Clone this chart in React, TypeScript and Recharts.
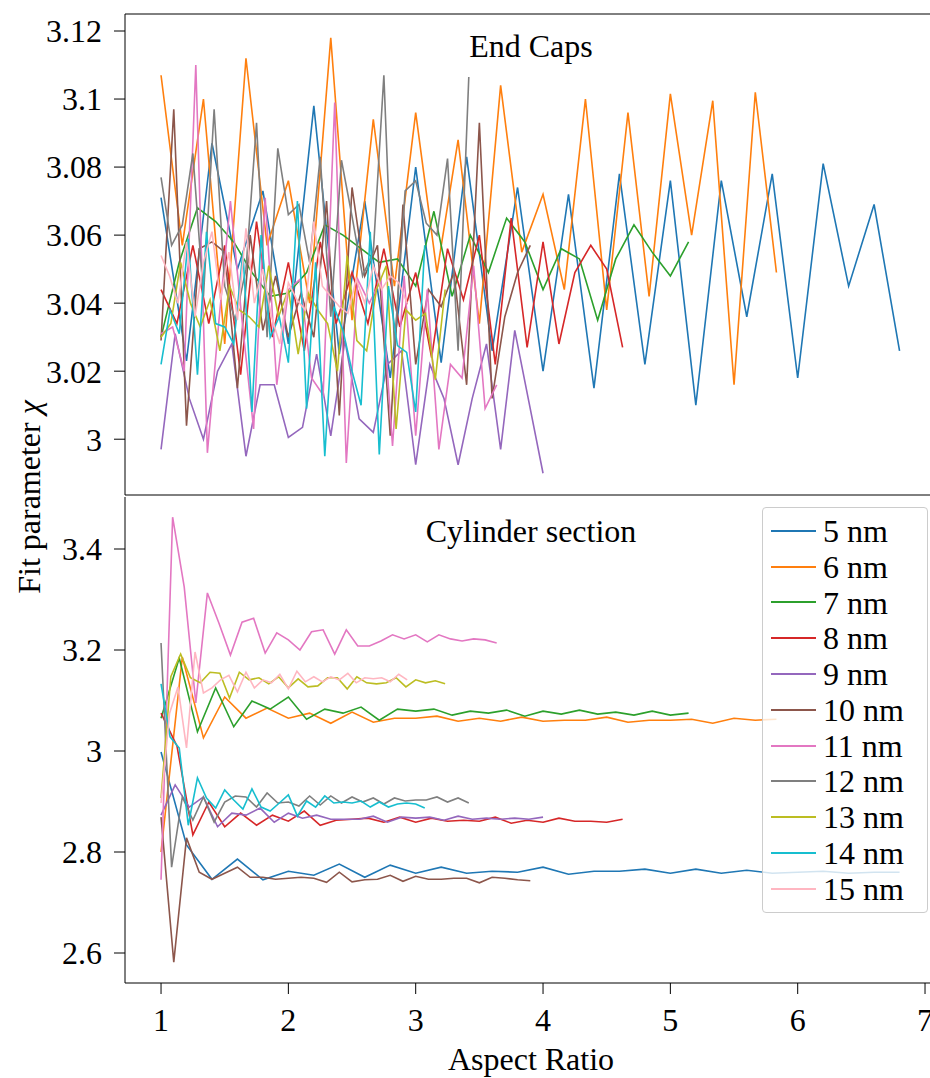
import { LineChart, Line, XAxis, YAxis, ReferenceLine, Legend } from 'recharts'

// aspect ratios (length / diameter) of each diameter series
const AR_5 = [1.0, 1.2, 1.4, 1.6, 1.8, 2.0, 2.2, 2.4, 2.6, 2.8, 3.0, 3.2, 3.4, 3.6, 3.8, 4.0, 4.2, 4.4, 4.6, 4.8, 5.0, 5.2, 5.4, 5.6, 5.8, 6.0, 6.2, 6.4, 6.6, 6.8]
const AR_6 = [1.0, 1.167, 1.333, 1.5, 1.667, 1.833, 2.0, 2.167, 2.333, 2.5, 2.667, 2.833, 3.0, 3.167, 3.333, 3.5, 3.667, 3.833, 4.0, 4.167, 4.333, 4.5, 4.667, 4.833, 5.0, 5.167, 5.333, 5.5, 5.667, 5.833]
const AR_7 = [1.0, 1.143, 1.286, 1.429, 1.571, 1.714, 1.857, 2.0, 2.143, 2.286, 2.429, 2.571, 2.714, 2.857, 3.0, 3.143, 3.286, 3.429, 3.571, 3.714, 3.857, 4.0, 4.143, 4.286, 4.429, 4.571, 4.714, 4.857, 5.0, 5.143]
const AR_8 = [1.0, 1.125, 1.25, 1.375, 1.5, 1.625, 1.75, 1.875, 2.0, 2.125, 2.25, 2.375, 2.5, 2.625, 2.75, 2.875, 3.0, 3.125, 3.25, 3.375, 3.5, 3.625, 3.75, 3.875, 4.0, 4.125, 4.25, 4.375, 4.5, 4.625]
const AR_9 = [1.0, 1.111, 1.222, 1.333, 1.444, 1.556, 1.667, 1.778, 1.889, 2.0, 2.111, 2.222, 2.333, 2.444, 2.556, 2.667, 2.778, 2.889, 3.0, 3.111, 3.222, 3.333, 3.444, 3.556, 3.667, 3.778, 3.889, 4.0]
const AR_10 = [1.0, 1.1, 1.2, 1.3, 1.4, 1.5, 1.6, 1.7, 1.8, 1.9, 2.0, 2.1, 2.2, 2.3, 2.4, 2.5, 2.6, 2.7, 2.8, 2.9, 3.0, 3.1, 3.2, 3.3, 3.4, 3.5, 3.6, 3.7, 3.8, 3.9]
const AR_11 = [1.0, 1.091, 1.182, 1.273, 1.364, 1.455, 1.545, 1.636, 1.727, 1.818, 1.909, 2.0, 2.091, 2.182, 2.273, 2.364, 2.455, 2.545, 2.636, 2.727, 2.818, 2.909, 3.0, 3.091, 3.182, 3.273, 3.364, 3.455, 3.545, 3.636]
const AR_12 = [1.0, 1.083, 1.167, 1.25, 1.333, 1.417, 1.5, 1.583, 1.667, 1.75, 1.833, 1.917, 2.0, 2.083, 2.167, 2.25, 2.333, 2.417, 2.5, 2.583, 2.667, 2.75, 2.833, 2.917, 3.0, 3.083, 3.167, 3.25, 3.333, 3.417]
const AR_13 = [1.0, 1.077, 1.154, 1.231, 1.308, 1.385, 1.462, 1.538, 1.615, 1.692, 1.769, 1.846, 1.923, 2.0, 2.077, 2.154, 2.231, 2.308, 2.385, 2.462, 2.538, 2.615, 2.692, 2.769, 2.846, 2.923, 3.0, 3.077, 3.154, 3.231]
const AR_14 = [1.0, 1.071, 1.143, 1.214, 1.286, 1.357, 1.429, 1.5, 1.571, 1.643, 1.714, 1.786, 1.857, 1.929, 2.0, 2.071, 2.143, 2.214, 2.286, 2.357, 2.429, 2.5, 2.571, 2.643, 2.714, 2.786, 2.857, 2.929, 3.0, 3.071]
const AR_15 = [1.0, 1.067, 1.133, 1.2, 1.267, 1.333, 1.4, 1.467, 1.533, 1.6, 1.667, 1.733, 1.8, 1.867, 1.933, 2.0, 2.067, 2.133, 2.2, 2.267, 2.333, 2.4, 2.467, 2.533, 2.6, 2.667, 2.733, 2.8, 2.867, 2.933]

// fit parameter, end caps
const CAPS_5 = [3.071, 3.023, 3.087, 3.05, 3.073, 3.028, 3.098, 3.025, 3.07, 3.018, 3.08, 3.0225, 3.083, 3.026, 3.074, 3.02, 3.072, 3.015, 3.078, 3.022, 3.076, 3.01, 3.076, 3.036, 3.078, 3.018, 3.081, 3.045, 3.069, 3.026]
const CAPS_6 = [3.107, 3.057, 3.1, 3.028, 3.112, 3.057, 3.076, 3.04, 3.118, 3.035, 3.094, 3.045, 3.096, 3.049, 3.088, 3.034, 3.104, 3.055, 3.072, 3.044, 3.1, 3.038, 3.096, 3.042, 3.1015, 3.06, 3.0995, 3.016, 3.102, 3.049]
const CAPS_7 = [3.03, 3.052, 3.068, 3.064, 3.058, 3.049, 3.042, 3.043, 3.049, 3.063, 3.06, 3.056, 3.052, 3.053, 3.045, 3.067, 3.042, 3.06, 3.049, 3.065, 3.058, 3.044, 3.056, 3.053, 3.035, 3.053, 3.063, 3.055, 3.048, 3.058]
const CAPS_8 = [3.044, 3.034, 3.057, 3.034, 3.057, 3.019, 3.064, 3.03, 3.052, 3.026, 3.058, 3.034, 3.049, 3.034, 3.056, 3.033, 3.049, 3.024, 3.056, 3.041, 3.06, 3.022, 3.065, 3.027, 3.058, 3.028, 3.049, 3.057, 3.05, 3.027]
const CAPS_9 = [2.997, 3.031, 3.012, 3.0, 3.02, 3.028, 2.995, 3.016, 3.016, 3.0005, 3.0035, 3.025, 3.001, 3.029, 3.006, 3.002, 3.022, 3.026, 2.9925, 3.022, 3.012, 2.9925, 3.012, 3.028, 2.997, 3.032, 3.011, 2.99]
const CAPS_10 = [3.029, 3.097, 3.004, 3.056, 3.058, 3.055, 3.015, 3.06, 3.032, 3.048, 3.03, 3.043, 3.03, 3.07, 3.007, 3.074, 3.048, 3.057, 3.001, 3.069, 3.022, 3.044, 3.039, 3.049, 3.016, 3.093, 3.012, 3.036, 3.049, 3.057]
const CAPS_11 = [3.031, 3.033, 3.02, 3.11, 2.996, 3.035, 3.07, 3.035, 3.003, 3.071, 3.016, 3.044, 3.047, 3.018, 3.013, 3.099, 2.993, 3.047, 3.04, 3.047, 2.998, 3.048, 3.001, 3.044, 2.997, 3.022, 3.018, 3.051, 3.009, 3.016]
const CAPS_12 = [3.077, 3.057, 3.063, 3.084, 3.042, 3.097, 3.045, 3.035, 3.05, 3.093, 3.03, 3.0855, 3.066, 3.069, 3.052, 3.083, 3.036, 3.082, 3.0655, 3.048, 3.055, 3.107, 3.027, 3.073, 3.076, 3.0635, 3.06, 3.0825, 3.026, 3.1065]
const CAPS_13 = [3.03, 3.034, 3.052, 3.04, 3.033, 3.041, 3.026, 3.045, 3.038, 3.036, 3.033, 3.051, 3.036, 3.044, 3.025, 3.043, 3.038, 3.034, 3.02, 3.054, 3.029, 3.026, 3.044, 3.051, 3.003, 3.038, 3.035, 3.037, 3.0175, 3.044]
const CAPS_14 = [3.022, 3.038, 3.031, 3.059, 3.019, 3.061, 3.034, 3.033, 3.028, 3.055, 3.008, 3.06, 3.03, 3.036, 3.0225, 3.07, 3.009, 3.052, 2.995, 3.039, 3.032, 3.02, 3.01, 3.061, 2.9955, 3.045, 3.0275, 3.0255, 3.008, 3.057]
const CAPS_15 = [3.054, 3.048, 3.04, 3.058, 3.036, 3.052, 3.061, 3.041, 3.055, 3.035, 3.062, 3.04, 3.05, 3.036, 3.028, 3.046, 3.041, 3.038, 3.064, 3.045, 3.042, 3.039, 3.037, 3.047, 3.04, 3.051, 3.044, 3.048, 3.046, 3.04]

// fit parameter, cylinder section
const CYL_5 = [2.998, 2.814, 2.746, 2.786, 2.745, 2.762, 2.754, 2.776, 2.75, 2.774, 2.758, 2.77, 2.758, 2.762, 2.76, 2.77, 2.756, 2.762, 2.762, 2.766, 2.758, 2.766, 2.758, 2.764, 2.758, 2.76, 2.762, 2.758, 2.76, 2.76]
const CYL_6 = [2.8, 3.186, 3.026, 3.107, 3.065, 3.085, 3.065, 3.075, 3.055, 3.077, 3.057, 3.065, 3.065, 3.069, 3.059, 3.065, 3.059, 3.067, 3.059, 3.061, 3.061, 3.067, 3.057, 3.061, 3.061, 3.063, 3.055, 3.065, 3.061, 3.063]
const CYL_7 = [3.065, 3.184, 3.038, 3.125, 3.048, 3.099, 3.083, 3.107, 3.063, 3.083, 3.075, 3.087, 3.061, 3.083, 3.079, 3.083, 3.071, 3.079, 3.075, 3.081, 3.069, 3.079, 3.073, 3.081, 3.073, 3.077, 3.071, 3.079, 3.071, 3.075]
const CYL_8 = [3.075, 3.01, 2.834, 2.899, 2.85, 2.877, 2.853, 2.873, 2.861, 2.881, 2.853, 2.863, 2.865, 2.867, 2.859, 2.869, 2.859, 2.867, 2.861, 2.863, 2.861, 2.869, 2.857, 2.863, 2.859, 2.867, 2.861, 2.861, 2.859, 2.865]
const CYL_9 = [2.873, 2.933, 2.889, 2.909, 2.85, 2.877, 2.873, 2.887, 2.859, 2.877, 2.867, 2.873, 2.865, 2.865, 2.865, 2.871, 2.859, 2.869, 2.867, 2.869, 2.863, 2.871, 2.865, 2.867, 2.865, 2.867, 2.865, 2.869]
const CYL_10 = [2.869, 2.582, 2.828, 2.76, 2.746, 2.758, 2.77, 2.75, 2.75, 2.746, 2.748, 2.75, 2.748, 2.74, 2.76, 2.741, 2.745, 2.746, 2.754, 2.742, 2.752, 2.746, 2.746, 2.748, 2.748, 2.739, 2.75, 2.748, 2.745, 2.743]
const CYL_11 = [2.745, 3.463, 3.325, 3.095, 3.313, 3.253, 3.19, 3.255, 3.263, 3.194, 3.234, 3.22, 3.2, 3.236, 3.24, 3.192, 3.24, 3.208, 3.208, 3.218, 3.23, 3.222, 3.23, 3.216, 3.23, 3.222, 3.218, 3.222, 3.22, 3.214]
const CYL_12 = [3.214, 2.77, 2.909, 2.863, 2.909, 2.859, 2.899, 2.911, 2.909, 2.889, 2.917, 2.897, 2.899, 2.891, 2.911, 2.893, 2.911, 2.897, 2.909, 2.899, 2.907, 2.895, 2.907, 2.901, 2.903, 2.903, 2.909, 2.899, 2.907, 2.897]
const CYL_13 = [2.907, 3.147, 3.192, 3.145, 3.135, 3.156, 3.154, 3.105, 3.156, 3.141, 3.145, 3.133, 3.147, 3.125, 3.143, 3.127, 3.129, 3.145, 3.145, 3.123, 3.147, 3.135, 3.133, 3.135, 3.145, 3.127, 3.141, 3.135, 3.139, 3.133]
const CYL_14 = [3.133, 3.028, 3.006, 2.853, 2.947, 2.907, 2.887, 2.923, 2.903, 2.885, 2.925, 2.889, 2.881, 2.897, 2.913, 2.871, 2.901, 2.889, 2.911, 2.897, 2.899, 2.897, 2.901, 2.889, 2.899, 2.889, 2.895, 2.897, 2.895, 2.887]
const CYL_15 = [2.897, 3.075, 3.127, 3.006, 3.196, 3.115, 3.125, 3.141, 3.15, 3.117, 3.156, 3.125, 3.141, 3.135, 3.152, 3.123, 3.158, 3.137, 3.147, 3.137, 3.147, 3.141, 3.154, 3.135, 3.145, 3.143, 3.145, 3.137, 3.152, 3.141]

const NAMES = ['5 nm', '6 nm', '7 nm', '8 nm', '9 nm', '10 nm', '11 nm', '12 nm', '13 nm', '14 nm', '15 nm']
const COLORS = ['#1f77b4', '#ff7f0e', '#2ca02c', '#d62728', '#9467bd', '#8c564b', '#e377c2', '#7f7f7f', '#bcbd22', '#17becf', '#ffb6c1']
const RATIOS = [AR_5, AR_6, AR_7, AR_8, AR_9, AR_10, AR_11, AR_12, AR_13, AR_14, AR_15]
const CAPS = [CAPS_5, CAPS_6, CAPS_7, CAPS_8, CAPS_9, CAPS_10, CAPS_11, CAPS_12, CAPS_13, CAPS_14, CAPS_15]
const CYL = [CYL_5, CYL_6, CYL_7, CYL_8, CYL_9, CYL_10, CYL_11, CYL_12, CYL_13, CYL_14, CYL_15]

const X_TICKS = [1, 2, 3, 4, 5, 6, 7]
const CAPS_TICKS = [3, 3.02, 3.04, 3.06, 3.08, 3.1, 3.12]
const CYL_TICKS = [2.6, 2.8, 3, 3.2, 3.4]

const X_DOMAIN = [0.717, 7.094]
const CAPS_DOMAIN = [2.9836, 3.125]
const CYL_DOMAIN = [2.5406, 3.503]

const FONT = "'Liberation Serif', 'Times New Roman', serif"
const FONT_SIZE = 32
const tickStyle = { fontSize: FONT_SIZE, fontFamily: FONT, fill: '#000' }

const toPoints = (xs: number[], ys: number[]) => xs.map((x, i) => ({ x, y: ys[i] }))

const capsSeries = NAMES.map((name, i) => ({ name, color: COLORS[i], points: toPoints(RATIOS[i], CAPS[i]) }))
const cylSeries = NAMES.map((name, i) => ({ name, color: COLORS[i], points: toPoints(RATIOS[i], CYL[i]) }))

const fmt = (v: number) => String(v)

function LegendBox({ payload }: any) {
    // keep the legend in series order, not sorted by label
    const items = [...(payload || [])].sort((a: any, b: any) => NAMES.indexOf(a.value) - NAMES.indexOf(b.value))
    return (
        <div
            style={{
                background: 'rgba(255,255,255,0.8)',
                border: '1px solid #cccccc',
                borderRadius: 4,
                padding: '5px 0',
                width: 164,
            }}
        >
            {items.map((entry: any) => (
                <div key={entry.value} style={{ display: 'flex', alignItems: 'center', height: 35.8 }}>
                    <div
                        style={{
                            width: 45,
                            height: 2,
                            background: COLORS[NAMES.indexOf(entry.value)] ?? entry.color,
                            marginLeft: 8,
                            marginRight: 7,
                        }}
                    />
                    <span style={{ fontFamily: FONT, fontSize: FONT_SIZE, lineHeight: '36px', color: '#000' }}>{entry.value}</span>
                </div>
            ))}
        </div>
    )
}

const titleStyle = {
    position: 'absolute' as const,
    left: 531,
    transform: 'translateX(-50%)',
    fontFamily: FONT,
    fontSize: FONT_SIZE,
    lineHeight: `${FONT_SIZE}px`,
    whiteSpace: 'nowrap' as const,
    color: '#000',
}

export default function App() {
    return (
        <div style={{ position: 'absolute', top: 0, left: 0, width: 930, height: 1078, overflow: 'hidden', background: '#fff' }}>
            {/* End caps */}
            <div style={{ position: 'absolute', top: 0, left: 0 }}>
                <LineChart width={937} height={1078} margin={{ top: 14, right: 0, bottom: 571, left: 0 }}>
                    <XAxis
                        type="number"
                        dataKey="x"
                        domain={X_DOMAIN}
                        ticks={X_TICKS}
                        interval={0}
                        allowDataOverflow
                        tick={false}
                        tickSize={11}
                        height={12}
                        stroke="#000"
                    />
                    <YAxis
                        type="number"
                        domain={CAPS_DOMAIN}
                        ticks={CAPS_TICKS}
                        interval={0}
                        allowDataOverflow
                        width={125}
                        tickSize={11}
                        tickMargin={12}
                        tick={tickStyle}
                        tickFormatter={fmt}
                        stroke="#000"
                    />
                    <ReferenceLine y={CAPS_DOMAIN[1]} stroke="#000" />
                    {capsSeries.map(s => (
                        <Line
                            key={s.name}
                            data={s.points}
                            dataKey="y"
                            name={s.name}
                            type="linear"
                            stroke={s.color}
                            strokeWidth={1.6}
                            dot={false}
                            isAnimationActive={false}
                        />
                    ))}
                </LineChart>
            </div>

            {/* Cylinder section */}
            <div style={{ position: 'absolute', top: 0, left: 0 }}>
                <LineChart width={937} height={1078} margin={{ top: 497, right: 0, bottom: 0, left: 0 }}>
                    <XAxis
                        type="number"
                        dataKey="x"
                        domain={X_DOMAIN}
                        ticks={X_TICKS}
                        interval={0}
                        allowDataOverflow
                        tickSize={11}
                        tickMargin={14}
                        tick={tickStyle}
                        height={95}
                        stroke="#000"
                        label={{ value: 'Aspect Ratio', position: 'insideBottom', offset: 8, style: { fontSize: FONT_SIZE, fontFamily: FONT, fill: '#000' } }}
                    />
                    <YAxis
                        type="number"
                        domain={CYL_DOMAIN}
                        ticks={CYL_TICKS}
                        interval={0}
                        allowDataOverflow
                        width={125}
                        tickSize={11}
                        tickMargin={12}
                        tick={tickStyle}
                        tickFormatter={fmt}
                        stroke="#000"
                    />
                    {cylSeries.map(s => (
                        <Line
                            key={s.name}
                            data={s.points}
                            dataKey="y"
                            name={s.name}
                            type="linear"
                            stroke={s.color}
                            strokeWidth={1.6}
                            dot={false}
                            isAnimationActive={false}
                        />
                    ))}
                    <Legend
                        layout="vertical"
                        align="center"
                        verticalAlign="middle"
                        content={<LegendBox />}
                        wrapperStyle={{ top: 507, left: 762, width: 166 }}
                    />
                </LineChart>
            </div>

            <div style={{ ...titleStyle, top: 30 }}>End Caps</div>
            <div style={{ ...titleStyle, top: 515 }}>Cylinder section</div>
            <div
                style={{
                    position: 'absolute',
                    left: 29,
                    top: 497,
                    transform: 'translate(-50%, -50%) rotate(-90deg)',
                    fontFamily: FONT,
                    fontSize: FONT_SIZE,
                    lineHeight: `${FONT_SIZE}px`,
                    whiteSpace: 'nowrap',
                    color: '#000',
                }}
            >
                Fit parameter <i>χ</i>
            </div>
        </div>
    )
}
